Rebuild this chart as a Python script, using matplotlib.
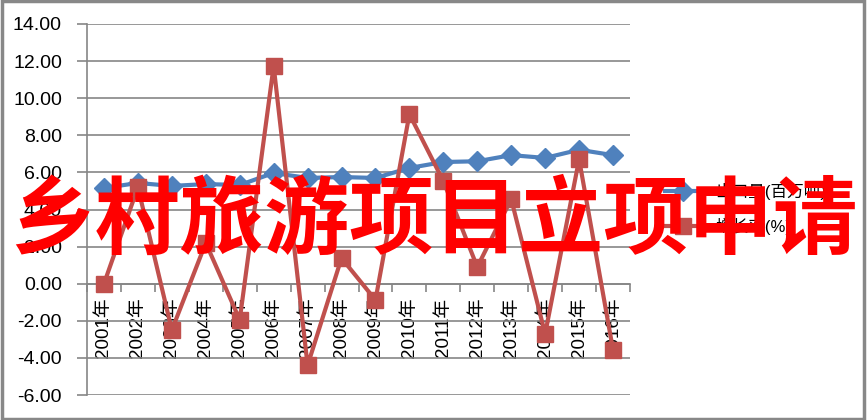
import matplotlib
matplotlib.use("Agg")
import matplotlib.pyplot as plt
from matplotlib.patches import Rectangle

plt.rcParams['font.family'] = ['Liberation Sans', 'Noto Sans CJK SC', 'DejaVu Sans']

years = [f"{y}年" for y in range(2001, 2017)]
output = [5.16, 5.43, 5.27, 5.37, 5.32, 5.97, 5.70, 5.75, 5.70, 6.24,
          6.56, 6.60, 6.93, 6.78, 7.22, 6.93]
growth = [0.0, 5.2, -2.5, 2.2, -1.95, 11.74, -4.4, 1.38, -0.88, 9.14,
          5.53, 0.9, 4.56, -2.71, 6.71, -3.57]
yticks = [-6, -4, -2, 0, 2, 4, 6, 8, 10, 12, 14]

BLUE = "#4F81BD"
RED = "#C0504D"
GRID = "#868686"

W, H = 867, 420
fig = plt.figure(figsize=(W / 100, H / 100), dpi=100)
ax = fig.add_axes([87 / W, (H - 395) / H, (630 - 87) / W, (395 - 24) / H])

x = list(range(len(years)))
ax.plot(x, output, color=BLUE, lw=3, marker="D", ms=10, mec=BLUE, label="出口量(百万吨)", zorder=3)
ax.plot(x, growth, color=RED, lw=3, marker="s", ms=11, mec=RED, label="增长率(%)", zorder=4)

ax.set_xlim(-0.5, len(years) - 0.5)
ax.set_ylim(-6, 14)
ax.set_yticks(yticks)
ax.set_yticklabels([f"{v:.2f}" for v in yticks], fontsize=14)
ax.yaxis.grid(True, color=GRID, lw=1.2)
ax.set_axisbelow(True)
ax.tick_params(axis="y", length=7, color=GRID, width=1.2, pad=11)

for s in ("top", "right"):
    ax.spines[s].set_visible(False)
ax.spines["left"].set_color(GRID)
ax.spines["left"].set_linewidth(1.2)
ax.spines["bottom"].set_position(("data", 0))
ax.spines["bottom"].set_color(GRID)
ax.spines["bottom"].set_linewidth(1.2)

ax.set_xticks([i - 0.5 for i in range(len(years) + 1)])
ax.set_xticklabels([])
ax.tick_params(axis="x", which="major", length=6, color=GRID, width=1.2, direction="out")
ax.set_xticks(x, minor=True)
ax.set_xticklabels(years, minor=True, rotation=90, fontsize=13.5)
ax.tick_params(axis="x", which="minor", length=0, pad=10)

leg = ax.legend(loc="center left", bbox_to_anchor=(650 / W, 1 - 209 / H),
                bbox_transform=fig.transFigure, frameon=False, fontsize=12,
                handlelength=2.2, labelspacing=1.1)

fig.text(0.5, 1 - 222 / H, "乡村旅游项目立项申请", color="#FF0000", fontsize=61,
         fontweight="bold", family=["Noto Sans CJK SC"], ha="center", va="center", zorder=10)

fig.patches.append(Rectangle((0.002, 0.003), 0.995, 0.994, transform=fig.transFigure,
                             fill=False, edgecolor="#888888", lw=2.5))

fig.savefig("out.png", dpi=100)
